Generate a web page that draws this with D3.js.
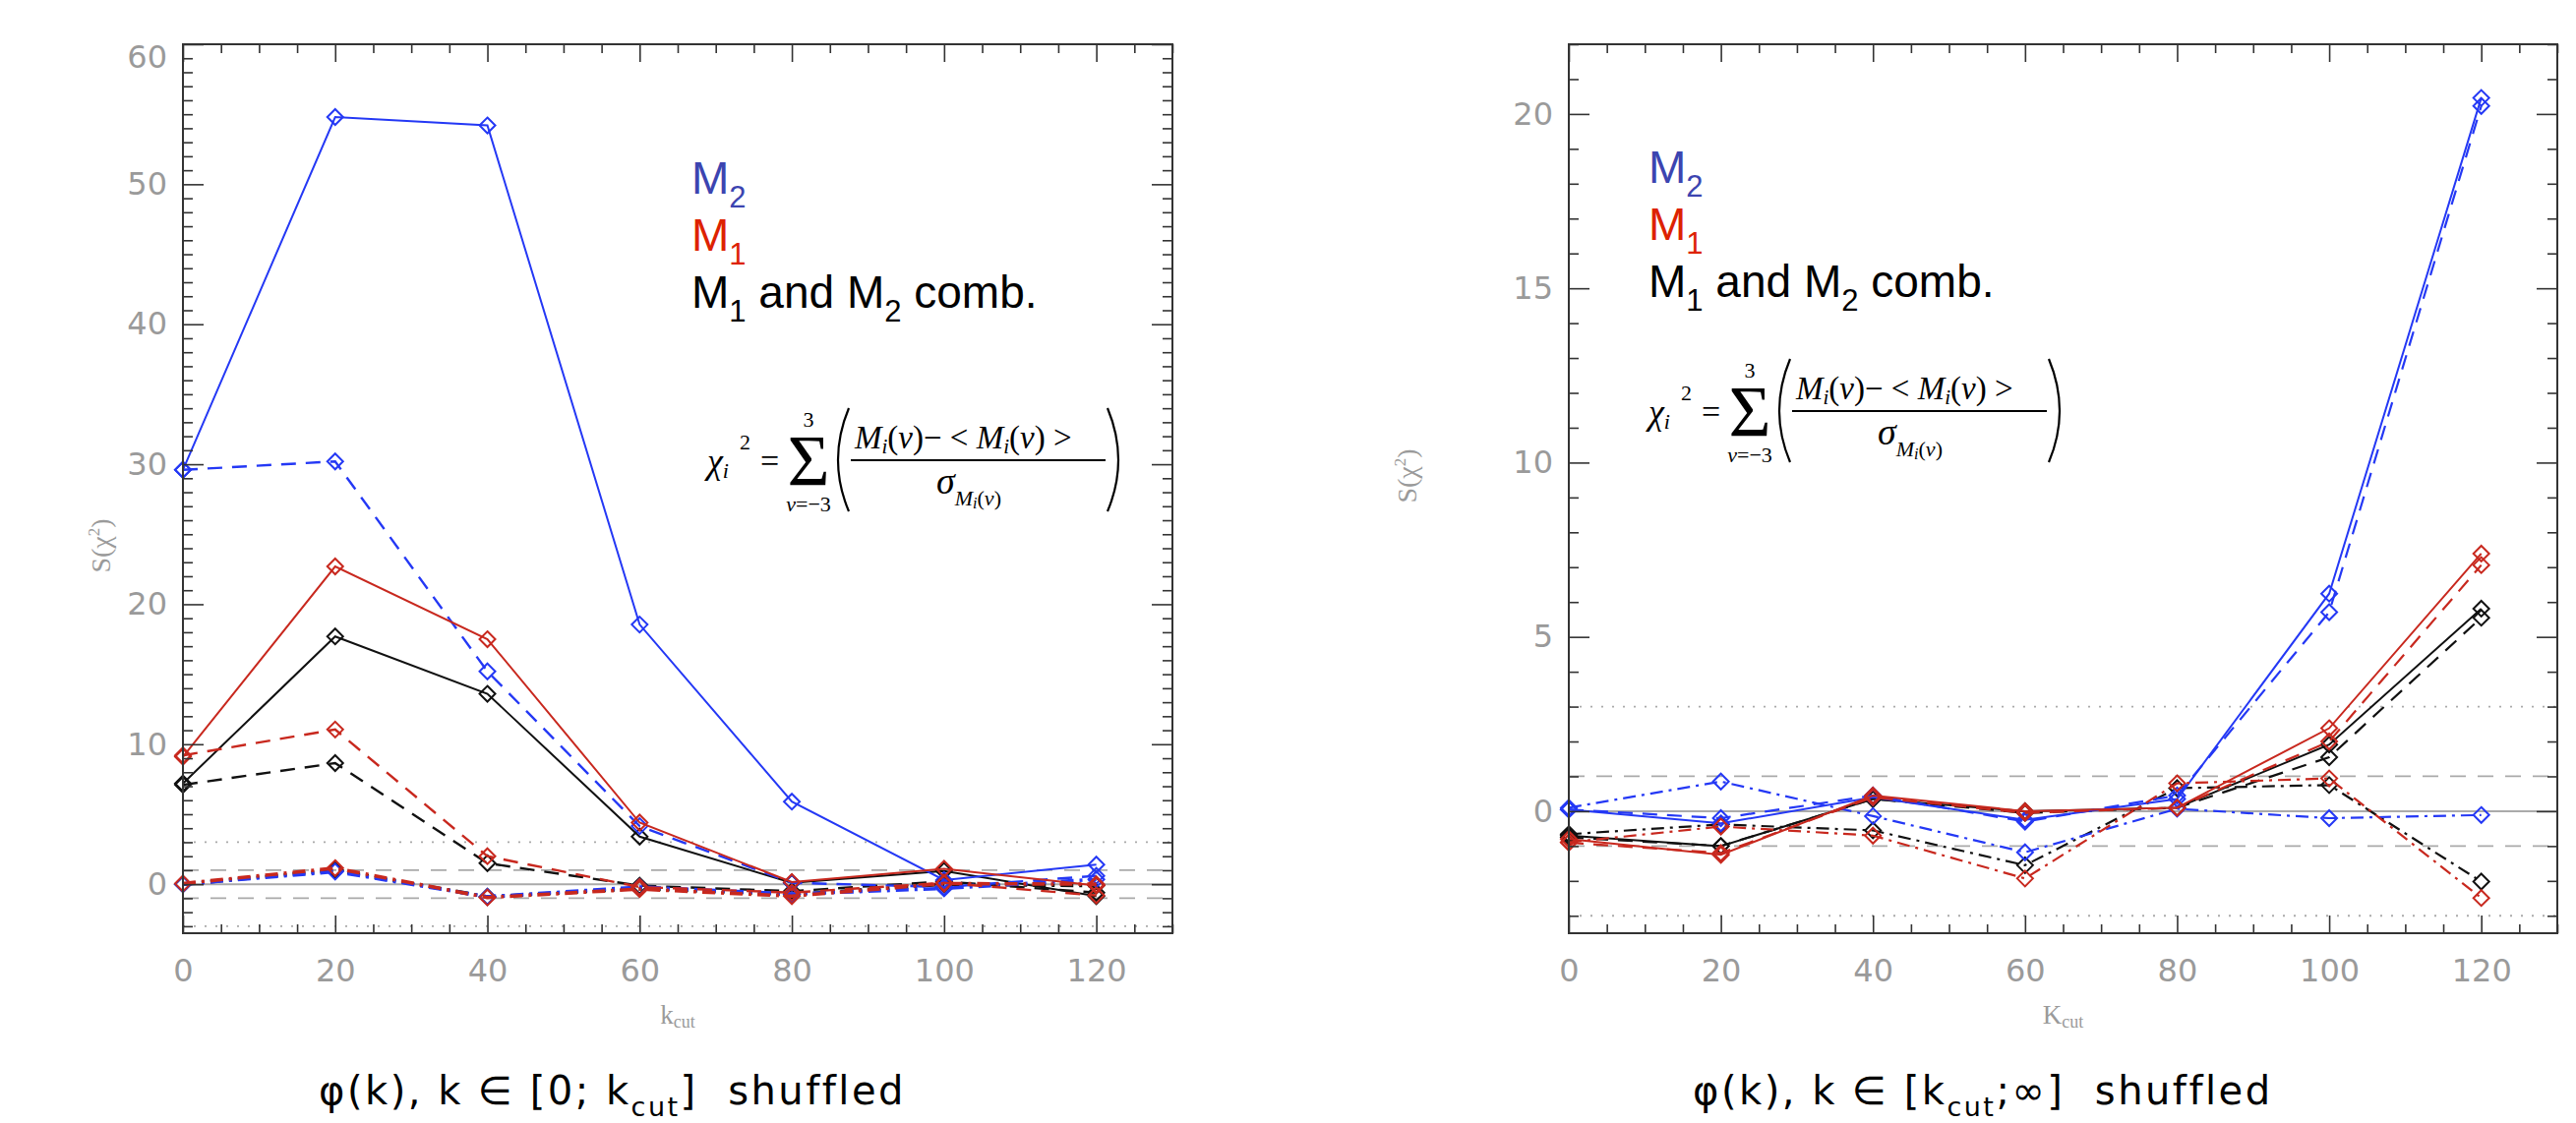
<!DOCTYPE html>
<html>
<head>
<meta charset="utf-8">
<script src="https://cdn.jsdelivr.net/npm/d3@7"></script>
<style>
  body { margin: 0; background: #fff; }
  svg { display: block; }
  .tick text { fill: #9a9a9a; font-family: "DejaVu Sans", sans-serif; font-size: 32px; }
  .tick line { stroke: #333; stroke-width: 1.6; }
  .domain { display: none; }
</style>
</head>
<body>
<div id="chart"></div>
<script>
const W = 2619;
const H = 1142;

// k_cut positions of the points
const kCut = [0, 20, 40, 60, 80, 100, 120];
const xTicks = [0, 20, 40, 60, 80, 100, 120];
const leftYTicks = [0, 10, 20, 30, 40, 50, 60];
const rightYTicks = [0, 5, 10, 15, 20];
const refLevels = [-3, -1, 0, 1, 3];

// left panel: phi(k), k in [0; kcut] shuffled
const lowM2Solid = [29.6, 54.8, 54.2, 18.55, 5.9, 0.3, 1.4];
const lowM2Dashed = [29.6, 30.2, 15.2, 4.15, 0.1, -0.2, 0.6];
const lowM2DashDot = [0.0, 0.9, -0.9, -0.2, -0.7, -0.3, 0.35];
const lowM1Solid = [9.1, 22.7, 17.5, 4.4, 0.15, 1.1, -0.1];
const lowM1Dashed = [9.2, 11.05, 2.0, -0.2, -0.6, 0.1, -0.8];
const lowM1DashDot = [0.05, 1.15, -0.95, -0.35, -0.85, 0.05, 0.0];
const lowCombSolid = [7.2, 17.7, 13.6, 3.4, 0.1, 0.95, -0.85];
const lowCombDashed = [7.1, 8.65, 1.5, -0.1, -0.5, 0.2, -0.6];
const lowCombDashDot = [0.0, 1.0, -0.9, -0.3, -0.75, 0.0, -0.1];

// right panel: phi(k), k in [kcut; inf] shuffled
const highM2Solid = [0.05, -0.35, 0.4, -0.25, 0.35, 6.24, 20.46];
const highM2Dashed = [0.05, -0.2, 0.45, -0.3, 0.45, 5.71, 20.23];
const highM2DashDot = [0.1, 0.85, -0.14, -1.18, 0.07, -0.2, -0.11];
const highM1Solid = [-0.8, -1.25, 0.45, 0.0, 0.1, 2.38, 7.39];
const highM1Dashed = [-0.9, -1.2, 0.4, -0.05, 0.1, 2.0, 7.06];
const highM1DashDot = [-0.89, -0.44, -0.7, -1.93, 0.8, 0.94, -2.49];
const highCombSolid = [-0.7, -1.0, 0.35, 0.0, 0.1, 1.91, 5.81];
const highCombDashed = [-0.75, -1.0, 0.35, -0.05, 0.1, 1.55, 5.55];
const highCombDashDot = [-0.66, -0.38, -0.55, -1.55, 0.66, 0.75, -2.02];

const BLUE = "#2438f5";
const RED = "#c8281e";
const BLACK = "#111";
const GREY = "#9a9a9a";

const svg = d3.select("#chart").append("svg").attr("width", W).attr("height", H);
svg.append("rect").attr("width", W).attr("height", H).attr("fill", "#fff");

const plotTop = 45;
const plotBottom = 949;

function drawPanel(p) {
  const g = svg.append("g");
  const x = d3.scaleLinear().domain([0, 130]).range([p.left, p.right]);
  const y = d3.scaleLinear().domain(p.yDomain).range([plotBottom, plotTop]);

  // reference levels
  g.selectAll("line.ref")
    .data(refLevels)
    .enter()
    .append("line")
    .attr("x1", p.left)
    .attr("x2", p.right)
    .attr("y1", (d) => y(d))
    .attr("y2", (d) => y(d))
    .attr("stroke", "#aaa")
    .attr("stroke-width", (d) => (d === 0 ? 2 : 1.8))
    .attr("stroke-dasharray", (d) => (d === 0 ? null : Math.abs(d) === 1 ? "16,12" : "2,9"));

  // series
  const line = d3
    .line()
    .x((d, i) => x(kCut[i]))
    .y((d) => y(d));

  p.series.forEach((s) => {
    g.append("path")
      .datum(s.values)
      .attr("d", line)
      .attr("fill", "none")
      .attr("stroke", s.color)
      .attr("stroke-width", s.width)
      .attr("stroke-dasharray", s.dash);
    g.selectAll(null)
      .data(s.values)
      .enter()
      .append("path")
      .attr("d", "M0,-8L8,0L0,8L-8,0Z")
      .attr("transform", (d, i) => `translate(${x(kCut[i])},${y(d)})`)
      .attr("fill", "none")
      .attr("stroke", s.color)
      .attr("stroke-width", 2);
  });

  // axes, ticks pointing inward
  const xMinor = d3.range(0, 131, 5).filter((v) => v % 20 !== 0);
  const yMinor = d3.range(Math.ceil(p.yDomain[0]), p.yDomain[1] + 0.01, 1).filter((v) => v % p.yStep !== 0);

  g.append("g")
    .attr("transform", `translate(0,${plotBottom})`)
    .call(d3.axisBottom(x).tickValues(xTicks).tickSize(-18).tickSizeOuter(0).tickPadding(26));
  g.append("g")
    .attr("transform", `translate(0,${plotBottom})`)
    .call(d3.axisBottom(x).tickValues(xMinor).tickSize(-9).tickSizeOuter(0).tickFormat(""));
  g.append("g")
    .attr("transform", `translate(0,${plotTop})`)
    .call(d3.axisTop(x).tickValues(xTicks).tickSize(-18).tickSizeOuter(0).tickFormat(""));
  g.append("g")
    .attr("transform", `translate(0,${plotTop})`)
    .call(d3.axisTop(x).tickValues(xMinor).tickSize(-9).tickSizeOuter(0).tickFormat(""));

  const yAxis = g
    .append("g")
    .attr("transform", `translate(${p.left},0)`)
    .call(d3.axisLeft(y).tickValues(p.yTicks).tickSize(-21).tickSizeOuter(0).tickPadding(16));
  yAxis
    .selectAll(".tick text")
    .filter((d) => d === 60)
    .attr("dy", "0.72em");
  g.append("g")
    .attr("transform", `translate(${p.left},0)`)
    .call(d3.axisLeft(y).tickValues(yMinor).tickSize(-10).tickSizeOuter(0).tickFormat(""));
  g.append("g")
    .attr("transform", `translate(${p.right},0)`)
    .call(d3.axisRight(y).tickValues(p.yTicks).tickSize(-21).tickSizeOuter(0).tickFormat(""));
  g.append("g")
    .attr("transform", `translate(${p.right},0)`)
    .call(d3.axisRight(y).tickValues(yMinor).tickSize(-10).tickSizeOuter(0).tickFormat(""));

  g.append("rect")
    .attr("x", p.left)
    .attr("y", plotTop)
    .attr("width", p.right - p.left)
    .attr("height", plotBottom - plotTop)
    .attr("fill", "none")
    .attr("stroke", "#333")
    .attr("stroke-width", 2);

  // axis titles
  const xt = g
    .append("text")
    .attr("x", (p.left + p.right) / 2)
    .attr("y", 1041)
    .attr("text-anchor", "middle")
    .attr("fill", GREY)
    .attr("font-family", "Liberation Serif, serif")
    .attr("font-size", 27);
  xt.append("tspan").text(p.kLetter);
  xt.append("tspan").attr("font-size", 18).attr("dy", 4).text("cut");

  const yt = g
    .append("text")
    .attr("transform", `translate(${p.yTitleX},${p.yTitleY}) rotate(-90)`)
    .attr("text-anchor", "middle")
    .attr("fill", GREY)
    .attr("font-family", "Liberation Serif, serif")
    .attr("font-size", 28);
  yt.append("tspan").text("S(χ");
  yt.append("tspan").attr("font-size", 17).attr("dy", -11).text("2");
  yt.append("tspan").attr("dy", 11).text(")");

  // legend
  const lg = g.append("g").attr("font-family", "Liberation Sans, Arial, sans-serif").attr("font-size", 46);
  const l1 = lg.append("text").attr("x", p.legX).attr("y", p.legY).attr("fill", "#3c44b0");
  l1.append("tspan").text("M");
  l1.append("tspan").attr("font-size", 31).attr("dy", 14).text("2");
  const l2 = lg.append("text").attr("x", p.legX).attr("y", p.legY + 58).attr("fill", "#dd2200");
  l2.append("tspan").text("M");
  l2.append("tspan").attr("font-size", 31).attr("dy", 14).text("1");
  const l3 = lg.append("text").attr("x", p.legX).attr("y", p.legY + 116).attr("fill", "#000");
  l3.append("tspan").text("M");
  l3.append("tspan").attr("font-size", 31).attr("dy", 14).text("1");
  l3.append("tspan").attr("dy", -14).text(" and M");
  l3.append("tspan").attr("font-size", 31).attr("dy", 14).text("2");
  l3.append("tspan").attr("dy", -14).text(" comb.");

  drawFormula(g, p.fx, p.fy);

  // caption
  const cap = g
    .append("text")
    .attr("x", p.capX)
    .attr("y", 1123)
    .attr("font-family", "DejaVu Sans, sans-serif")
    .attr("font-size", 40)
    .attr("letter-spacing", 2.5)
    .attr("fill", "#000")
    .style("white-space", "pre");
  cap.append("tspan").text(p.capA);
  cap.append("tspan").attr("font-size", 27).attr("dy", 12).text("cut");
  cap.append("tspan").attr("dy", -12).text(p.capB);
}

function drawFormula(g, x0, y0) {
  const f = g.append("g").attr("font-family", "Liberation Serif, Times New Roman, serif").attr("fill", "#000");
  const chi = f.append("text").attr("x", x0).attr("y", y0 + 13).attr("font-size", 36).attr("font-style", "italic");
  chi.append("tspan").text("χ");
  chi.append("tspan").attr("font-size", 22).attr("dy", 5).text("i");
  f.append("text").attr("x", x0 + 33).attr("y", y0 - 11).attr("font-size", 22).text("2");
  f.append("text").attr("x", x0 + 54).attr("y", y0 + 12).attr("font-size", 34).text("=");
  f.append("text").attr("x", x0 + 103).attr("y", y0 + 26).attr("font-size", 74).attr("text-anchor", "middle").text("Σ");
  f.append("text").attr("x", x0 + 103).attr("y", y0 - 34).attr("font-size", 22).attr("text-anchor", "middle").text("3");
  const lo = f.append("text").attr("x", x0 + 103).attr("y", y0 + 52).attr("font-size", 22).attr("text-anchor", "middle");
  lo.append("tspan").attr("font-style", "italic").text("ν");
  lo.append("tspan").text("=−3");

  f.append("path")
    .attr("d", `M${x0 + 144},${y0 - 53} Q${x0 + 122},${y0} ${x0 + 144},${y0 + 52}`)
    .attr("fill", "none")
    .attr("stroke", "#000")
    .attr("stroke-width", 2.2);
  f.append("path")
    .attr("d", `M${x0 + 407},${y0 - 53} Q${x0 + 429},${y0} ${x0 + 407},${y0 + 52}`)
    .attr("fill", "none")
    .attr("stroke", "#000")
    .attr("stroke-width", 2.2);

  const num = f.append("text").attr("x", x0 + 150).attr("y", y0 - 12).attr("font-size", 33);
  num.append("tspan").attr("font-style", "italic").text("M");
  num.append("tspan").attr("font-style", "italic").attr("font-size", 21).attr("dy", 5).text("i");
  num.append("tspan").attr("dy", -5).text("(");
  num.append("tspan").attr("font-style", "italic").text("ν");
  num.append("tspan").text(")− < ");
  num.append("tspan").attr("font-style", "italic").text("M");
  num.append("tspan").attr("font-style", "italic").attr("font-size", 21).attr("dy", 5).text("i");
  num.append("tspan").attr("dy", -5).text("(");
  num.append("tspan").attr("font-style", "italic").text("ν");
  num.append("tspan").text(") >");

  f.append("line")
    .attr("x1", x0 + 146)
    .attr("x2", x0 + 405)
    .attr("y1", y0)
    .attr("y2", y0)
    .attr("stroke", "#000")
    .attr("stroke-width", 2);

  const den = f.append("text").attr("x", x0 + 233).attr("y", y0 + 34).attr("font-size", 38).attr("font-style", "italic");
  den.append("tspan").text("σ");
  den.append("tspan").attr("font-size", 22).attr("dy", 12).text("M");
  den.append("tspan").attr("font-size", 16).attr("dy", 3).text("i");
  den.append("tspan").attr("font-size", 22).attr("dy", -3).attr("font-style", "normal").text("(");
  den.append("tspan").attr("font-size", 22).text("ν");
  den.append("tspan").attr("font-size", 22).attr("font-style", "normal").text(")");
}

function makeSeries(m2, m1, comb, widths) {
  const styles = [null, "15,10", "13,6,3,6"];
  const out = [];
  [[comb, BLACK], [m2, BLUE], [m1, RED]].forEach(([set, color]) => {
    set.forEach((values, k) => out.push({ values, color, dash: styles[k], width: widths[k] }));
  });
  return out;
}

drawPanel({
  left: 186,
  right: 1192,
  yDomain: [-3.5, 60],
  yStep: 10,
  yTicks: leftYTicks,
  kLetter: "k",
  yTitleX: 112,
  yTitleY: 555,
  legX: 703,
  legY: 197,
  fx: 719,
  fy: 468,
  capX: 324,
  capA: "φ(k), k ∈ [0; k",
  capB: "]  shuffled",
  series: makeSeries(
    [lowM2Solid, lowM2Dashed, lowM2DashDot],
    [lowM1Solid, lowM1Dashed, lowM1DashDot],
    [lowCombSolid, lowCombDashed, lowCombDashDot],
    [2, 2.4, 3.6]
  ),
});

drawPanel({
  left: 1595,
  right: 2600,
  yDomain: [-3.5, 22],
  yStep: 5,
  yTicks: rightYTicks,
  kLetter: "K",
  yTitleX: 1440,
  yTitleY: 484,
  legX: 1676,
  legY: 186,
  fx: 1676,
  fy: 418,
  capX: 1721,
  capA: "φ(k), k ∈ [k",
  capB: ";∞]  shuffled",
  series: makeSeries(
    [highM2Solid, highM2Dashed, highM2DashDot],
    [highM1Solid, highM1Dashed, highM1DashDot],
    [highCombSolid, highCombDashed, highCombDashDot],
    [2, 2.2, 2.2]
  ),
});
</script>
</body>
</html>
